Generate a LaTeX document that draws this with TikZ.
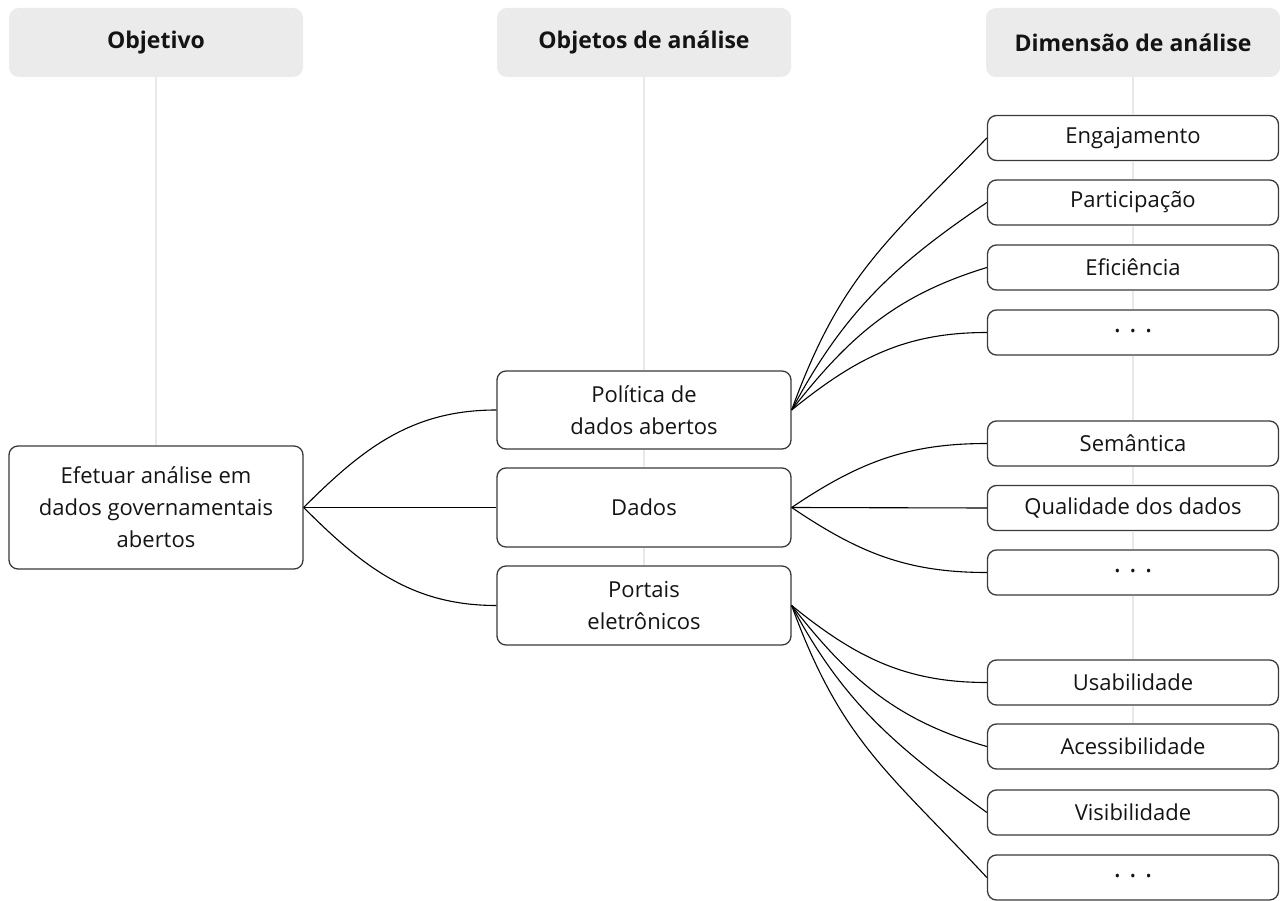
\documentclass[tikz,border=0pt]{standalone}
\usepackage{fontspec}
\setmainfont{Open Sans}
\definecolor{hdrfill}{HTML}{EBEBEB}
\definecolor{guide}{HTML}{E8E8E8}
\definecolor{boxline}{HTML}{3A3A3A}
\definecolor{txt}{HTML}{141414}
\tikzset{
  hdr/.style={rectangle, rounded corners=10pt, fill=hdrfill, draw=none,
    minimum width=294pt, minimum height=69pt, inner sep=0pt,
    font=\fontsize{23}{28}\selectfont\bfseries, text=txt},
  box/.style={rectangle, rounded corners=9pt, fill=white, draw=boxline, line width=1.3pt,
    minimum width=294pt, inner sep=0pt, align=center,
    font=\fontsize{22}{32}\selectfont, text=txt},
  rbox/.style={box, minimum width=291pt, minimum height=45pt},
  dots/.style={font=\fontsize{15}{15}\selectfont},
  guideline/.style={draw=guide, line width=2.5pt},
  link/.style={draw=black, line width=1.1pt},
}
\newcommand{\threedots}{\textbullet\hspace{10pt}\textbullet\hspace{10pt}\textbullet}
\begin{document}
\begin{tikzpicture}[x=1pt,y=1pt]
\useasboundingbox[fill=white] (0,0) rectangle (1280,-901);
% headers
\node[hdr] (h1) at (156,-42.5) {Objetivo};
\node[hdr] (h2) at (644,-42.5) {Objetos de análise};
\node[hdr] (h3) at (1133,-42.5) {Dimensão de análise};
% left
\node[box, minimum height=123pt] (goal) at (156,-507.5) {Efetuar análise em\\dados governamentais\\abertos};
% middle
\node[box, minimum height=78pt] (pol) at (644,-410) {Política de\\dados abertos};
\node[box, minimum height=79pt] (dad) at (644,-507.5) {Dados};
\node[box, minimum height=79pt] (por) at (644,-605.5) {Portais\\eletrônicos};
% right
\node[rbox] (eng) at (1133,-138) {Engajamento};
\node[rbox] (par) at (1133,-202.5) {Participação};
\node[rbox] (efi) at (1133,-267.5) {Eficiência};
\node[rbox, dots] (d1) at (1133,-332.5) {\threedots};
\node[rbox] (sem) at (1133,-443.5) {Semântica};
\node[rbox] (qua) at (1133,-508) {Qualidade dos dados};
\node[rbox, dots] (d2) at (1133,-572.5) {\threedots};
\node[rbox] (usa) at (1133,-682.5) {Usabilidade};
\node[rbox] (ace) at (1133,-746.5) {Acessibilidade};
\node[rbox] (vis) at (1133,-812.5) {Visibilidade};
\node[rbox, dots] (d3) at (1133,-877.5) {\threedots};
% guide lines (between boxes)
\draw[guideline] (h1.south) -- (goal.north);
\draw[guideline] (h2.south) -- (pol.north);
\draw[guideline] (pol.south) -- (dad.north);
\draw[guideline] (dad.south) -- (por.north);
\draw[guideline] (h3.south) -- (eng.north);
\draw[guideline] (eng.south) -- (par.north);
\draw[guideline] (par.south) -- (efi.north);
\draw[guideline] (efi.south) -- (d1.north);
\draw[guideline] (d1.south) -- (sem.north);
\draw[guideline] (sem.south) -- (qua.north);
\draw[guideline] (qua.south) -- (d2.north);
\draw[guideline] (d2.south) -- (usa.north);
\draw[guideline] (usa.south) -- (ace.north);
% left connectors
\draw[link] (goal.east) to[out=45,in=180] (pol.west);
\draw[link] (goal.east) -- (dad.west);
\draw[link] (goal.east) to[out=-45,in=180] (por.west);
% politica
\draw[link] (pol.east) to[out=70,in=226,looseness=1.1] (eng.west);
\draw[link] (pol.east) to[out=62,in=214] (par.west);
\draw[link] (pol.east) to[out=52,in=197] (efi.west);
\draw[link] (pol.east) to[out=39,in=180] (d1.west);
% dados
\draw[link] (dad.east) to[out=34,in=180] (sem.west);
\draw[link] (dad.east) -- (qua.west);
\draw[link] (dad.east) to[out=-34,in=180] (d2.west);
% portais
\draw[link] (por.east) to[out=-39,in=180] (usa.west);
\draw[link] (por.east) to[out=-52,in=164] (ace.west);
\draw[link] (por.east) to[out=-62,in=144] (vis.west);
\draw[link] (por.east) to[out=-70,in=133,looseness=1.1] (d3.west);
\end{tikzpicture}
\end{document}
